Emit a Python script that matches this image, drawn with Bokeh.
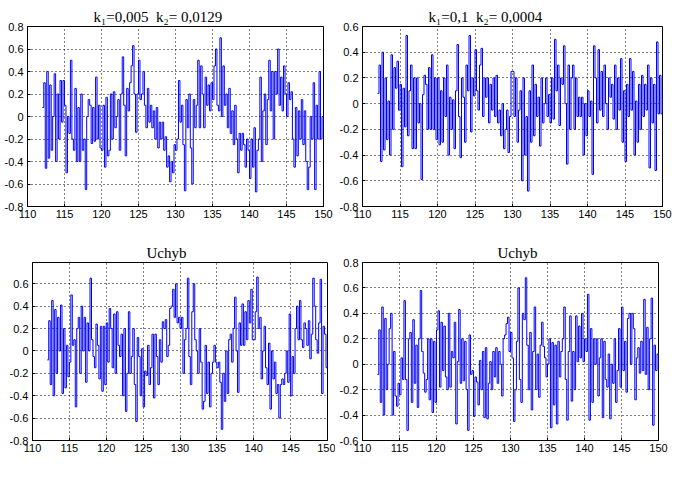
from bokeh.plotting import figure
from bokeh.layouts import column, row
from bokeh.models import Range1d, FixedTicker, Title
from bokeh.embed import file_html
from bokeh.resources import INLINE

# sample times (s): 112.0 ... 150.0, step 0.2
t = [round(112 + 0.2 * k, 1) for k in range(191)]

u_tl = [0.08, 0.30, -0.46, 0.40, -0.37,
        0.28, -0.30, 0.00, 0.38, -0.40,
        0.20, -0.20, 0.32, -0.05, 0.32,
        0.10, -0.50, 0.00, -0.15, 0.50,
        -0.20, -0.30, 0.25, -0.40, 0.08,
        -0.40, 0.20, -0.30, -0.20, -0.65,
        0.00, 0.15, 0.10, -0.24, 0.08,
        -0.22, 0.35, -0.20, 0.10, -0.28,
        -0.30, 0.10, -0.45, 0.17, -0.35,
        -0.30, 0.20, -0.20, 0.22, -0.10,
        0.00, 0.15, -0.30, 0.20, 0.53,
        0.10, -0.35, 0.25, 0.05, 0.30,
        0.45, 0.63, 0.20, -0.14, 0.20,
        0.50, 0.15, 0.20, 0.40, 0.10,
        -0.10, 0.25, -0.05, 0.10, -0.10,
        0.05, -0.20, 0.08, -0.28, -0.05,
        -0.20, -0.05, -0.30, -0.18, -0.45,
        -0.35, -0.58, -0.40, -0.50, -0.25,
        -0.30, -0.20, 0.32, -0.05, 0.10,
        -0.25, -0.66, 0.15, -0.10, 0.20,
        -0.28, -0.60, 0.15, -0.10, 0.10,
        0.50, -0.10, 0.45, 0.20, -0.10,
        0.35, 0.10, 0.28, 0.05, 0.30,
        0.15, 0.45, 0.60, 0.10, 0.05,
        0.70, 0.00, 0.45, 0.10, 0.20,
        -0.10, 0.25, -0.15, 0.05, -0.25,
        0.10, -0.20, -0.50, -0.15, -0.30,
        -0.15, -0.25, -0.45, -0.20, -0.30,
        -0.55, -0.20, -0.45, -0.10, -0.67,
        -0.30, -0.20, 0.35, -0.40, 0.05,
        0.20, -0.25, 0.15, 0.50, 0.05,
        0.40, -0.20, 0.40, 0.20, 0.60,
        0.10, 0.35, 0.05, 0.45, 0.20,
        0.00, 0.30, 0.15, 0.22, -0.20,
        -0.45, 0.08, -0.35, 0.05, -0.20,
        0.15, -0.25, 0.05, -0.40, -0.65,
        -0.45, 0.00, -0.20, 0.30, -0.65,
        0.10, -0.20, 0.40, -0.20, 0.00,
        -0.15]

u_tr = [0.08, 0.30, -0.45, 0.40, -0.36,
        0.20, -0.28, 0.02, -0.40, 0.38,
        -0.20, 0.28, 0.12, 0.33, -0.05,
        0.15, -0.49, 0.12, -0.18, 0.53,
        -0.25, 0.10, 0.30, -0.35, 0.20,
        -0.35, 0.20, -0.15, 0.00, -0.59,
        0.07, 0.22, 0.15, -0.20, 0.28,
        -0.20, 0.38, -0.20, 0.20, -0.28,
        0.20, -0.32, 0.10, -0.30, 0.20,
        -0.10, 0.30, -0.40, 0.05, -0.20,
        0.03, -0.35, 0.10, 0.46, -0.10,
        -0.42, 0.20, 0.05, -0.30, 0.30,
        0.10, 0.53, -0.22, 0.20, 0.06,
        0.42, 0.10, -0.05, 0.30, 0.43,
        -0.10, 0.20, 0.05, 0.20, -0.15,
        0.15, -0.05, 0.20, -0.10, 0.22,
        -0.15, -0.05, -0.25, 0.00, -0.35,
        -0.20, -0.05, -0.38, -0.10, 0.25,
        0.25, -0.10, 0.20, -0.30, -0.05,
        0.10, -0.60, 0.20, -0.40, -0.10,
        -0.68, 0.10, -0.30, 0.30, -0.25,
        0.15, -0.10, 0.05, -0.33, 0.20,
        -0.15, 0.00, 0.20, -0.10, 0.07,
        -0.15, 0.20, -0.12, 0.50, 0.10,
        0.30, -0.17, 0.20, 0.15, 0.45,
        0.00, -0.47, 0.30, -0.20, 0.20,
        0.30, -0.20, 0.20, -0.10, 0.05,
        -0.10, 0.05, -0.40, 0.00, -0.25,
        0.10, -0.10, 0.02, -0.55, 0.45,
        0.20, -0.15, 0.42, -0.05, 0.25,
        -0.10, 0.30, 0.00, -0.20, 0.20,
        0.05, 0.15, -0.12, 0.30, -0.20,
        0.20, -0.05, 0.35, -0.30, 0.10,
        -0.45, 0.15, -0.10, 0.35, -0.05,
        0.25, -0.40, 0.02, -0.30, 0.15,
        -0.20, 0.22, -0.10, 0.15, -0.05,
        0.30, -0.50, 0.20, -0.15, 0.15,
        -0.52, 0.48, -0.08, 0.22, -0.08,
        0.10]

u_bl = [-0.08, 0.27, -0.30, 0.45, -0.40,
        0.37, -0.20, 0.30, 0.00, 0.41,
        -0.38, 0.20, -0.33, 0.05, -0.23,
        -0.10, 0.50, 0.05, 0.10, -0.50,
        0.20, 0.30, -0.20, 0.40, 0.00,
        0.30, -0.28, 0.25, 0.00, 0.65,
        0.10, -0.05, -0.15, 0.24, 0.05,
        -0.25, 0.22, -0.36, 0.22, -0.30,
        0.25, -0.10, 0.38, 0.20, -0.15,
        0.33, -0.20, 0.35, 0.05, -0.05,
        0.15, -0.40, 0.20, -0.54, -0.20,
        0.35, -0.20, -0.05, 0.20, -0.30,
        -0.63, 0.12, -0.05, -0.40, 0.02,
        -0.50, -0.18, -0.22, 0.05, -0.30,
        -0.15, 0.15, -0.42, 0.15, -0.05,
        -0.30, 0.10, -0.10, 0.26, 0.20,
        0.28, -0.05, 0.05, 0.38, 0.40,
        0.55, 0.30, 0.60, 0.25, 0.30,
        0.20, 0.30, -0.20, 0.10, 0.20,
        0.65, -0.05, -0.30, 0.35, 0.60,
        0.10, 0.00, -0.20, 0.20, -0.10,
        -0.52, -0.45, 0.05, -0.38, -0.10,
        -0.50, -0.20, -0.10, 0.05, -0.10,
        -0.15, -0.10, -0.28, -0.70, -0.20,
        -0.45, 0.00, -0.38, 0.10, 0.15,
        -0.10, 0.20, 0.48, 0.00, -0.37,
        0.25, 0.05, 0.42, 0.05, 0.35,
        0.10, 0.45, 0.25, 0.55, 0.10,
        0.10, 0.35, 0.66, 0.20, 0.30,
        -0.25, 0.00, 0.22, -0.15, -0.30,
        0.07, -0.52, 0.00, -0.25, -0.10,
        -0.38, -0.30, -0.60, -0.30, -0.25,
        -0.30, -0.20, 0.00, -0.28, 0.33,
        -0.40, -0.05, -0.20, 0.20, 0.40,
        0.10, 0.45, 0.10, 0.03, 0.25,
        0.20, 0.05, 0.27, -0.07, 0.15,
        0.65, 0.40, 0.10, -0.02, 0.25,
        0.64, -0.38, 0.22, 0.15, -0.15,
        -0.05]

u_br = [-0.08, 0.27, -0.30, 0.45, -0.40,
        0.36, -0.20, 0.00, 0.28, 0.40,
        -0.40, 0.10, -0.25, -0.33, -0.15,
        -0.24, 0.05, -0.12, 0.50, -0.12,
        -0.52, 0.20, 0.25, -0.30, 0.35,
        -0.15, 0.15, -0.34, 0.20, 0.58,
        0.10, -0.07, -0.22, -0.12, 0.20,
        -0.28, 0.20, -0.38, 0.18, -0.30,
        0.27, 0.42, -0.18, 0.33, -0.05,
        0.30, -0.10, -0.20, 0.40, -0.18,
        0.10, 0.05, 0.33, -0.47, 0.02,
        0.43, -0.15, 0.20, -0.13, 0.18,
        -0.20, -0.52, 0.23, -0.08, -0.05,
        -0.41, -0.10, -0.14, -0.32, 0.03,
        -0.20, 0.10, -0.42, 0.13, -0.43,
        -0.15, 0.02, -0.20, 0.10, -0.10,
        0.13, -0.15, 0.10, 0.00, -0.25,
        0.20, 0.23, 0.32, 0.37, 0.10,
        0.25, 0.05, -0.45, -0.20, 0.18,
        0.60, -0.12, -0.30, 0.40, 0.35,
        0.68, 0.15, -0.20, 0.25, -0.36,
        0.10, 0.45, -0.20, 0.08, -0.26,
        0.15, 0.33, 0.14, 0.05, -0.10,
        0.00, 0.20, -0.50, 0.17, -0.32,
        0.15, -0.47, 0.18, -0.10, 0.10,
        0.20, 0.45, -0.12, -0.44, 0.10,
        0.38, -0.29, 0.10, -0.20, 0.38,
        0.02, 0.30, 0.05, 0.40, 0.02,
        0.20, 0.10, 0.55, -0.44, 0.28,
        -0.30, 0.20, 0.00, 0.20, -0.25,
        0.05, 0.20, -0.42, 0.18, -0.12,
        -0.18, 0.08, -0.43, 0.00, -0.15,
        0.20, -0.30, -0.05, 0.28, -0.18,
        0.45, -0.05, 0.18, -0.22, 0.36,
        0.40, 0.00, 0.40, 0.28, -0.28,
        0.05, 0.13, -0.07, 0.18, -0.05,
        0.51, -0.08, 0.29, -0.20, 0.20,
        0.52, -0.48, 0.15, -0.05, 0.08,
        -0.02]

x_ticks = [110, 115, 120, 125, 130, 135, 140, 145, 150]
y_ticks = [-0.8, -0.6, -0.4, -0.2, 0.0, 0.2, 0.4, 0.6, 0.8]
y_labels = ["-0.8", "-0.6", "-0.4", "-0.2", "0", "0.2", "0.4", "0.6", "0.8"]

titles = ["k\u2081=0,005\u00a0\u00a0k\u2082= 0,0129", "k\u2081=0,1\u00a0\u00a0k\u2082= 0,0004", "Uchyb", "Uchyb"]


def panel(u, title, ylo, yhi, w, h, ml, mr, mt, mb, toff):
    p = figure(width=w, height=h, x_range=Range1d(110, 150), y_range=Range1d(ylo, yhi),
               output_backend="svg", toolbar_location=None,
               min_border_left=ml, min_border_right=mr, min_border_top=mt, min_border_bottom=mb)
    p.title = Title(text=title, align="left", offset=toff, text_font="Liberation Serif",
                    text_font_size="15px", text_font_style="normal", text_color="black", standoff=4)
    p.background_fill_color = "white"
    p.border_fill_color = "white"
    p.outline_line_color = "black"
    p.outline_line_alpha = 1
    p.outline_line_width = 1
    p.xaxis.ticker = FixedTicker(ticks=x_ticks)
    p.yaxis.ticker = FixedTicker(ticks=y_ticks)
    p.yaxis.major_label_overrides = {v: s for v, s in zip(y_ticks, y_labels)}
    for ax in (p.xaxis, p.yaxis):
        ax.major_tick_in = 3
        ax.major_tick_out = 0
        ax.minor_tick_line_color = None
        ax.axis_line_color = "black"
        ax.major_tick_line_color = "black"
        ax.major_label_text_font = "Liberation Sans"
        ax.major_label_text_font_size = "11px"
        ax.major_label_text_color = "black"
    p.xaxis.major_label_standoff = 3
    p.yaxis.major_label_standoff = 4
    p.grid.grid_line_color = "black"
    p.grid.grid_line_alpha = 1
    p.grid.grid_line_dash = "1 3"
    p.grid.grid_line_width = 1
    p.step(t, u, mode="after", line_color="#0000ff", line_width=1)
    return p


p1 = panel(u_tl, titles[0], -0.8, 0.8, 335, 230, 27, 12, 25, 24, 66)
p2 = panel(u_tr, titles[1], -0.8, 0.6, 340, 230, 27, 13, 26, 23, 66)
p3 = panel(u_bl, titles[2], -0.8, 0.79, 335, 267, 32, 8, 32, 57, 114)
p4 = panel(u_br, titles[3], -0.6, 0.8, 340, 267, 27, 17, 32, 55, 135)

layout = column(row(p1, p2), row(p3, p4))
open("out.html", "w").write(file_html(layout, INLINE))
